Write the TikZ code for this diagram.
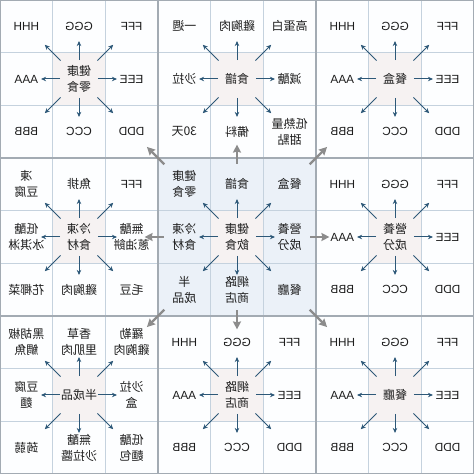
\documentclass[tikz,border=0pt]{standalone}
\usepackage{fontspec}
\setmainfont{Noto Sans CJK TC}
\newfontfamily\latf{Liberation Sans}
\newcommand\lt[1]{{\latf\fontsize{11.8}{15}\selectfont #1}}
\usetikzlibrary{calc,arrows.meta}
\definecolor{gridc}{HTML}{C5D2DE}
\definecolor{framec}{HTML}{A3ABB3}
\definecolor{cbg}{HTML}{EBF1F8}
\definecolor{obg}{HTML}{FDFEFF}
\definecolor{ccell}{HTML}{F6F2F2}
\definecolor{arrc}{HTML}{2D5878}
\definecolor{bigarr}{HTML}{8C8C8C}
\definecolor{txtc}{HTML}{1E1E1E}
\tikzset{
  cellbox/.style={draw=gridc, line width=0.8pt, minimum size=52.667pt, inner sep=0pt,
    xscale=-1, align=center, text=txtc, font=\fontsize{12}{16}\selectfont},
  blockframe/.style={draw=framec, line width=1.4pt},
  smallarr/.style={draw=arrc, line width=1pt, -{Stealth[length=5pt,width=4.5pt]}},
  bigarrow/.style={draw=bigarr, line width=2.2pt, -{Stealth[length=8pt,width=8pt,inset=1pt]}},
}
\newcommand\myblock[5]{% #1 name, #2 block col, #3 block row, #4 bg colour, #5 texts
  \foreach \t [count=\i from 0] in {#5} {
    \pgfmathtruncatemacro\cc{mod(\i,3)}
    \pgfmathtruncatemacro\rr{div(\i,3)}
    \ifnum\i=4 \def\fc{ccell}\else\def\fc{#4}\fi
    \node[cellbox, fill=\fc] (#1-\i) at ({3*#2+\cc+0.5},{9-3*#3-\rr-0.5}) {\t};
  }
  \foreach \j in {1,3,5,7}
    \draw[smallarr] ($(#1-4)!.36!(#1-\j)$) -- ($(#1-4)!.72!(#1-\j)$);
  \foreach \j in {0,2,6,8}
    \draw[smallarr] ($(#1-4)!.35!(#1-\j)$) -- ($(#1-4)!.65!(#1-\j)$);
}
\begin{document}
\begin{tikzpicture}[x=52.667pt,y=52.667pt]
\useasboundingbox (0,0) rectangle (9,9);
\fill[white] (0,0) rectangle (9,9);
\myblock{B00}{0}{0}{obg}{\lt{HHH},\lt{GGG},\lt{FFF},\lt{AAA},{健康\\零食},\lt{EEE},\lt{BBB},\lt{CCC},\lt{DDD}}
\myblock{B10}{1}{0}{obg}{一週,雞胸肉,高蛋白,沙拉,食譜,減醣,30天,備料,{低熱量\\甜點}}
\myblock{B20}{2}{0}{obg}{\lt{HHH},\lt{GGG},\lt{FFF},\lt{AAA},餐盒,\lt{EEE},\lt{BBB},\lt{CCC},\lt{DDD}}
\myblock{B01}{0}{1}{obg}{{凍\\豆腐},魚排,\lt{FFF},{低醣\\冰淇淋},{冷凍\\食材},{無醣\\蔥油餅},花椰菜,雞胸肉,毛豆}
\myblock{B11}{1}{1}{cbg}{{健康\\零食},食譜,餐盒,{冷凍\\食材},{健康\\飲食},{營養\\成分},{半\\成品},{網路\\商店},餐廳}
\myblock{B21}{2}{1}{obg}{\lt{HHH},\lt{GGG},\lt{FFF},\lt{AAA},{營養\\成分},\lt{EEE},\lt{BBB},\lt{CCC},\lt{DDD}}
\myblock{B02}{0}{2}{obg}{{黑胡椒\\鯛魚},{香草\\里肌肉},{羅勒\\雞胸肉},{豆腐\\麵},半成品,{沙拉\\盒},蒟蒻,{無醣\\沙拉醬},{低醣\\麵包}}
\myblock{B12}{1}{2}{obg}{\lt{HHH},\lt{GGG},\lt{FFF},\lt{AAA},{網路\\商店},\lt{EEE},\lt{BBB},\lt{CCC},\lt{DDD}}
\myblock{B22}{2}{2}{obg}{\lt{HHH},\lt{GGG},\lt{FFF},\lt{AAA},餐廳,\lt{EEE},\lt{BBB},\lt{CCC},\lt{DDD}}
\foreach \bx in {0,1,2} \foreach \by in {0,1,2}
  \draw[blockframe] ({3*\bx},{9-3*\by}) rectangle ++(3,-3);
\foreach \b in {B10,B01,B21,B12}
  \draw[bigarrow] ($(B11-4)!.463!(\b-4)$) -- ($(B11-4)!.585!(\b-4)$);
\foreach \b in {B00,B20,B02,B22}
  \draw[bigarrow] ($(B11-4)!.46!(\b-4)$) -- ($(B11-4)!.57!(\b-4)$);
\end{tikzpicture}
\end{document}
